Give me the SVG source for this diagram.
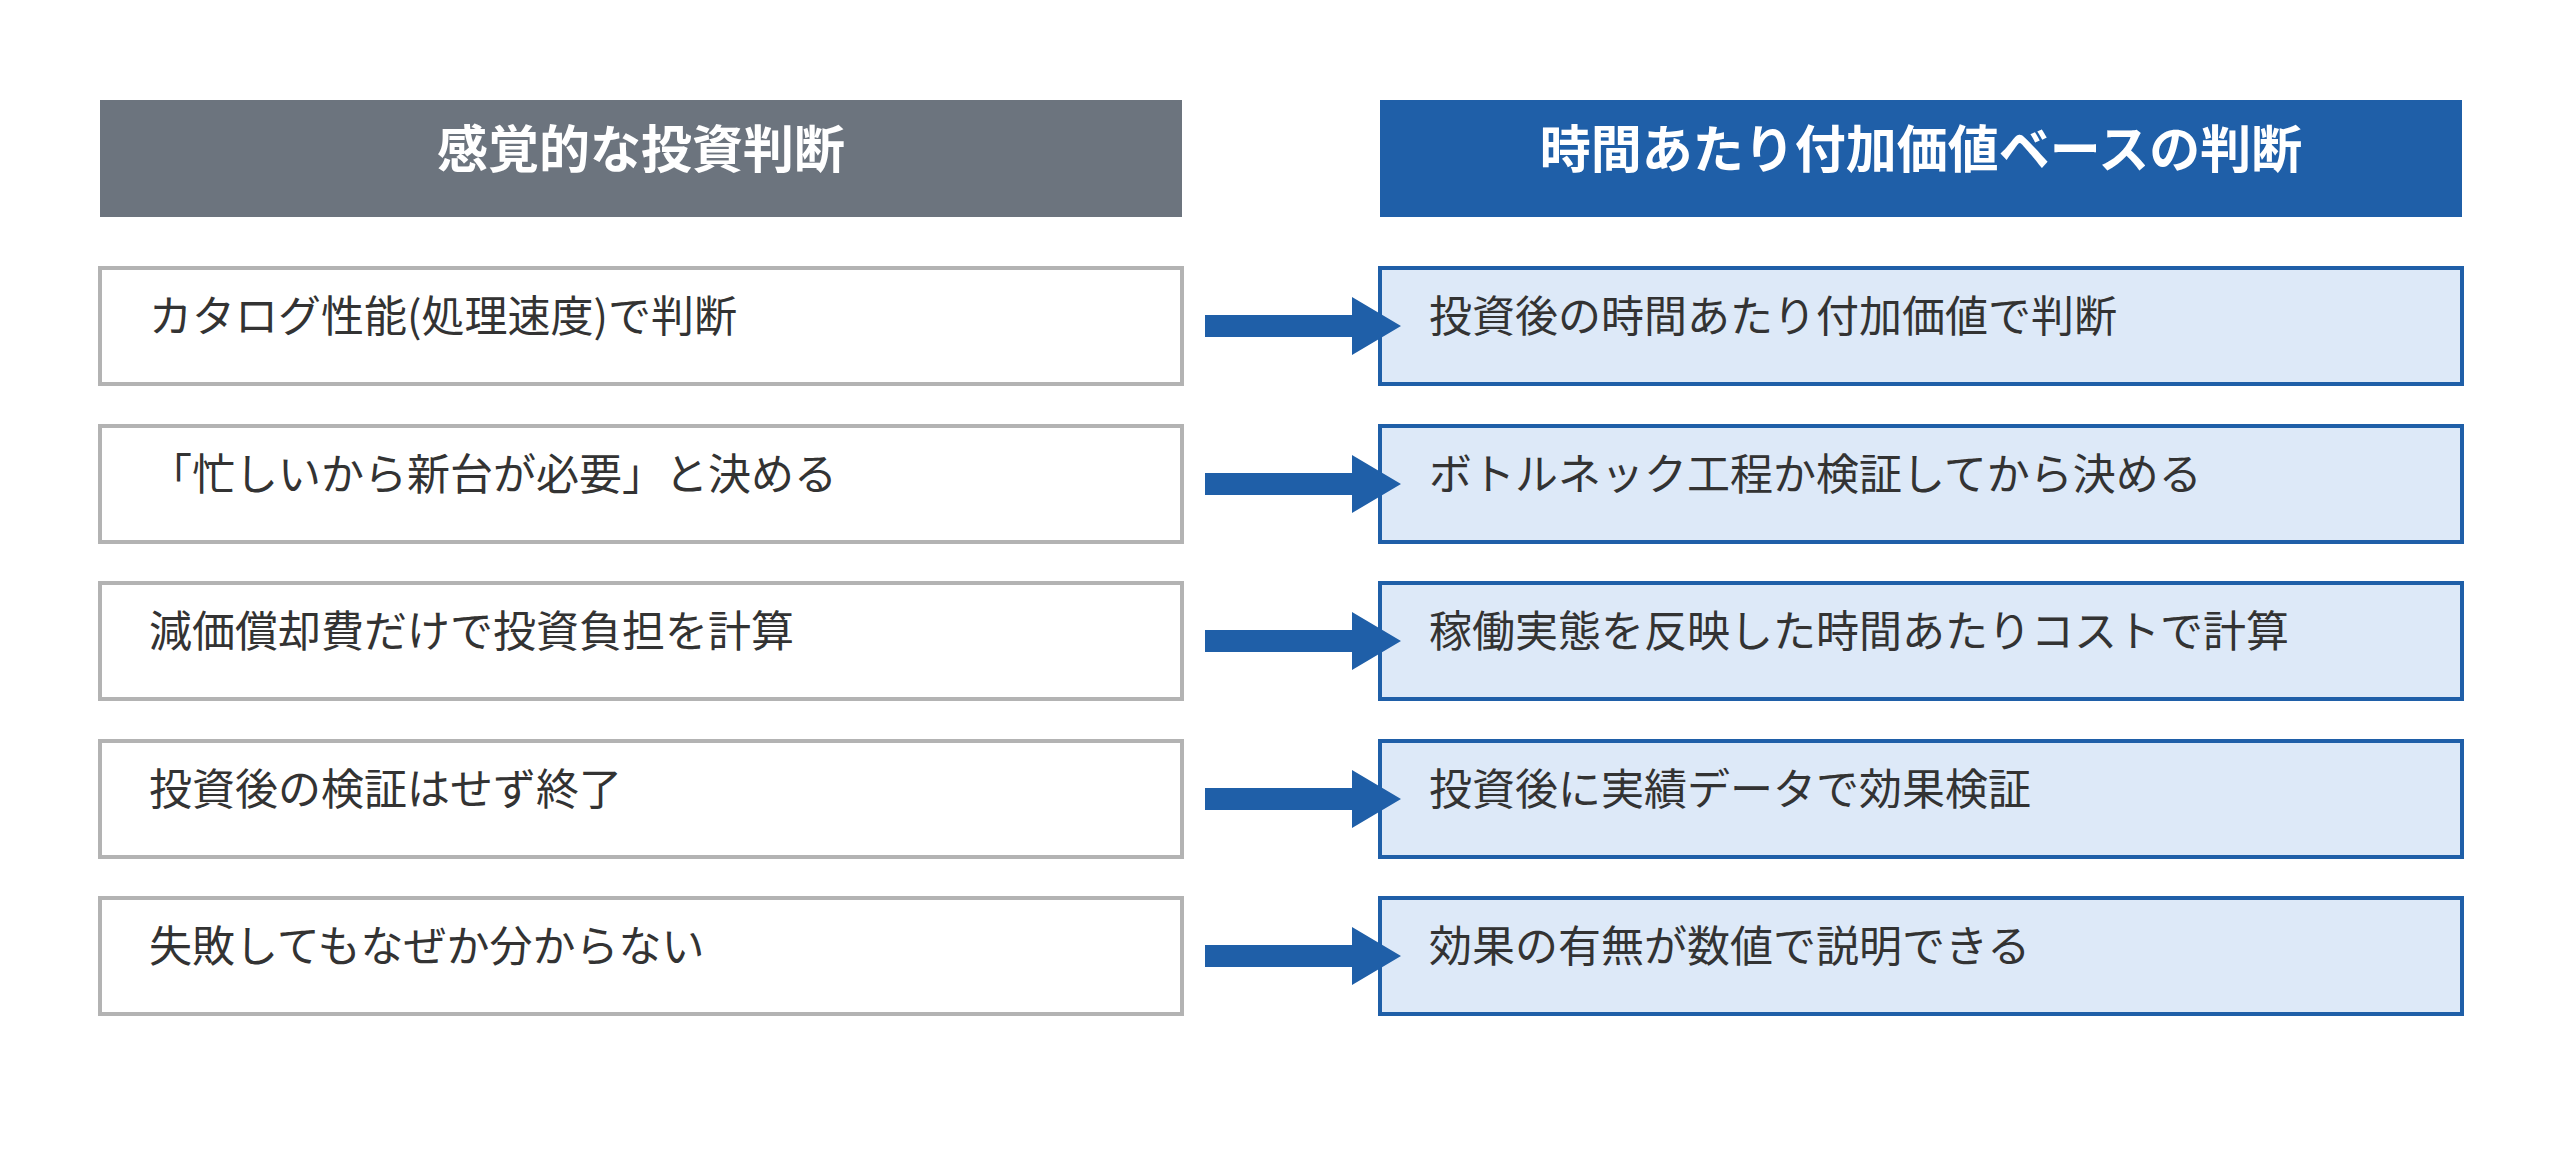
<svg xmlns="http://www.w3.org/2000/svg" width="2560" height="1152" viewBox="0 0 2560 1152">
<style>
.t{font-family:"Noto Sans CJK JP","Noto Sans",sans-serif;font-size:43px;fill:#333}
.h{font-family:"Noto Sans CJK JP","Noto Sans",sans-serif;font-size:51px;font-weight:bold;fill:#fff}
.l{fill:#fff;stroke:#b3b3b3;stroke-width:4}
.r{fill:#dde9f8;stroke:#1f5fa8;stroke-width:4}
.a{fill:#1f5fa8}
</style>
<defs><path id="arr" d="M1205 -11 H1352 V-29 L1401 0 L1352 29 V11 H1205 Z"/></defs>
<rect width="2560" height="1152" fill="#fff"/>
<g id="hdrL"><rect x="100" y="100" width="1082" height="117" fill="#6c747e"/><text class="h" x="641" y="168" text-anchor="middle">感覚的な投資判断</text></g>
<g id="hdrR"><rect x="1380" y="100" width="1082" height="117" fill="#1f5fa8"/><text class="h" x="1921" y="168" text-anchor="middle">時間あたり付加価値ベースの判断</text></g>
<g id="L1"><rect class="l" x="100" y="268" width="1082" height="116"/><text class="t" x="149" y="332">カタログ性能(処理速度)で判断</text></g>
<g id="L2"><rect class="l" x="100" y="426" width="1082" height="116"/><text class="t" x="149" y="490">「忙しいから新台が必要」と決める</text></g>
<g id="L3"><rect class="l" x="100" y="583" width="1082" height="116"/><text class="t" x="149" y="647">減価償却費だけで投資負担を計算</text></g>
<g id="L4"><rect class="l" x="100" y="741" width="1082" height="116"/><text class="t" x="149" y="805">投資後の検証はせず終了</text></g>
<g id="L5"><rect class="l" x="100" y="898" width="1082" height="116"/><text class="t" x="149" y="962">失敗してもなぜか分からない</text></g>
<g id="R1"><rect class="r" x="1380" y="268" width="1082" height="116"/><text class="t" x="1429" y="332">投資後の時間あたり付加価値で判断</text></g>
<g id="R2"><rect class="r" x="1380" y="426" width="1082" height="116"/><text class="t" x="1429" y="490">ボトルネック工程か検証してから決める</text></g>
<g id="R3"><rect class="r" x="1380" y="583" width="1082" height="116"/><text class="t" x="1429" y="647">稼働実態を反映した時間あたりコストで計算</text></g>
<g id="R4"><rect class="r" x="1380" y="741" width="1082" height="116"/><text class="t" x="1429" y="805">投資後に実績データで効果検証</text></g>
<g id="R5"><rect class="r" x="1380" y="898" width="1082" height="116"/><text class="t" x="1429" y="962">効果の有無が数値で説明できる</text></g>
<g id="connectors" class="a">
<use href="#arr" y="326"/><use href="#arr" y="484"/><use href="#arr" y="641"/><use href="#arr" y="799"/><use href="#arr" y="956"/>
</g>
</svg>
